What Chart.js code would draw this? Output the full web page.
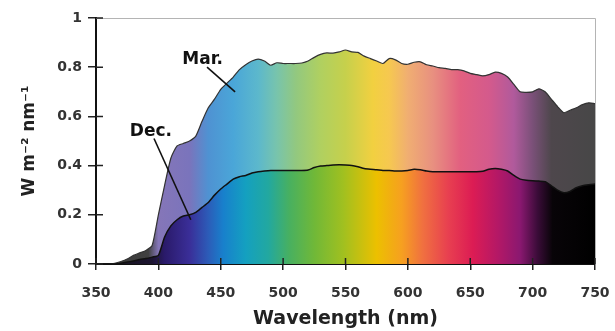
<!DOCTYPE html>
<html>
<head>
<meta charset="utf-8">
<script src="https://cdn.jsdelivr.net/npm/chart.js@4.4.1/dist/chart.umd.min.js"></script>
<style>
  html, body { margin: 0; padding: 0; background: #fff; }
  #wrap { width: 615px; height: 331px; }
</style>
</head>
<body>
<div id="wrap"><canvas id="spectrumChart"></canvas></div>
<script>
// data (W m-2 nm-1)
const wavelengths = [350, 360, 365, 370, 375, 380, 385, 390, 395, 400, 405, 410, 415, 420, 425, 430, 435, 440, 445, 450,
  455, 460, 465, 470, 475, 480, 485, 490, 495, 500, 505, 510, 515, 520, 525, 530, 535, 540, 545, 550,
  555, 560, 565, 570, 575, 580, 585, 590, 595, 600, 605, 610, 615, 620, 625, 630, 635, 640, 645, 650,
  655, 660, 665, 670, 675, 680, 685, 690, 695, 700, 705, 710, 715, 720, 725, 730, 735, 740, 745, 750];

const marValues = [0, 0, 0.003, 0.01, 0.02, 0.035, 0.045, 0.055, 0.075, 0.2, 0.32, 0.43, 0.48, 0.49, 0.5, 0.52, 0.58, 0.635, 0.67, 0.71,
  0.735, 0.76, 0.79, 0.81, 0.825, 0.833, 0.825, 0.808, 0.818, 0.815, 0.815, 0.815, 0.817, 0.825, 0.84, 0.852, 0.858, 0.857, 0.862, 0.87,
  0.862, 0.86, 0.845, 0.835, 0.825, 0.815, 0.835, 0.83, 0.815, 0.812, 0.82, 0.822, 0.81, 0.805, 0.798, 0.795, 0.79, 0.79, 0.785, 0.775,
  0.77, 0.765, 0.77, 0.78, 0.775, 0.76, 0.73, 0.7, 0.698, 0.7, 0.712, 0.7, 0.67, 0.64, 0.615, 0.625, 0.635, 0.648, 0.655, 0.652];

const decValues = [0, 0, 0, 0.003, 0.008, 0.012, 0.018, 0.022, 0.028, 0.035, 0.11, 0.155, 0.18, 0.195, 0.2, 0.21, 0.23, 0.25, 0.28, 0.305,
  0.325, 0.345, 0.355, 0.36, 0.37, 0.375, 0.378, 0.38, 0.38, 0.38, 0.38, 0.38, 0.38, 0.382, 0.392, 0.398, 0.4, 0.402, 0.403, 0.402,
  0.4, 0.395, 0.388, 0.385, 0.383, 0.38, 0.38, 0.378, 0.378, 0.38, 0.385, 0.383, 0.378, 0.375, 0.375, 0.375, 0.375, 0.375, 0.375, 0.375,
  0.375, 0.377, 0.385, 0.388, 0.385, 0.378, 0.36, 0.345, 0.34, 0.338, 0.337, 0.335, 0.318, 0.3, 0.29, 0.295, 0.31, 0.318, 0.322, 0.325];

const xTicks = [350, 400, 450, 500, 550, 600, 650, 700, 750];
const yTicks = [0, 0.2, 0.4, 0.6, 0.8, 1];
const yTickLabels = ['0', '0.2', '0.4', '0.6', '0.8', '1'];

// spectrum colours along the x axis
const marStops = [[350, '#3a3a3a'], [392, '#404040'], [400, '#8576b8'], [425, '#7a74bc'], [440, '#4f92d2'],
  [460, '#4aa6d8'], [480, '#5cb8cc'], [495, '#78c4ac'], [510, '#92c880'], [530, '#b0d060'], [550, '#c6d04c'],
  [572, '#f2d040'], [585, '#f6c850'], [600, '#f0ae72'], [620, '#e89080'], [642, '#e26080'], [665, '#d45a8c'],
  [685, '#b05a9c'], [700, '#7a5078'], [715, '#4e474c'], [750, '#474747']];
const decStops = [[350, '#151515'], [395, '#1c1430'], [405, '#2a1a6a'], [425, '#3a2e98'], [440, '#2c5cb8'],
  [452, '#1880cc'], [470, '#14a0c0'], [488, '#22a8a0'], [505, '#48b060'], [525, '#70b838'], [548, '#a0c020'],
  [575, '#ecc000'], [595, '#f6a020'], [612, '#f07040'], [632, '#e84050'], [652, '#dc1c54'], [672, '#b41866'],
  [690, '#8a1870'], [704, '#3a0c38'], [716, '#080408'], [750, '#000000']];

// label and leader line spots, in data units
const labels = [
  { text: 'Mar.', x: 435.5, y: 0.83, from: [439, 0.80], to: [461.5, 0.70] },
  { text: 'Dec.', x: 394, y: 0.54, from: [396.5, 0.51], to: [426, 0.18] }
];

function spectrum(chart, stops) {
  const area = chart.chartArea;
  if (!area) return 'rgba(0,0,0,0)';
  const xs = chart.scales.x;
  const x0 = xs.getPixelForValue(350), x1 = xs.getPixelForValue(750);
  const g = chart.ctx.createLinearGradient(x0, 0, x1, 0);
  stops.forEach(([w, c]) => g.addColorStop((w - 350) / 400, c));
  return g;
}

const spectrumPlugin = {
  id: 'spectrumExtras',
  afterDatasetsDraw(chart) {
    const { ctx } = chart;
    const xs = chart.scales.x, ys = chart.scales.y;
    ctx.save();
    labels.forEach(l => {
      ctx.strokeStyle = '#111';
      ctx.lineWidth = 1.6;
      ctx.beginPath();
      ctx.moveTo(xs.getPixelForValue(l.from[0]), ys.getPixelForValue(l.from[1]));
      ctx.lineTo(xs.getPixelForValue(l.to[0]), ys.getPixelForValue(l.to[1]));
      ctx.stroke();
      ctx.fillStyle = '#111';
      ctx.font = 'bold 17px "DejaVu Sans"';
      ctx.textAlign = 'center';
      ctx.textBaseline = 'middle';
      ctx.fillText(l.text, xs.getPixelForValue(l.x), ys.getPixelForValue(l.y));
    });
    ctx.restore();
  },
  afterDraw(chart) {
    const { ctx, chartArea: a } = chart;
    const xs = chart.scales.x, ys = chart.scales.y;
    ctx.save();
    // light frame on top and right
    ctx.strokeStyle = '#b4b4b4';
    ctx.lineWidth = 1;
    ctx.beginPath();
    ctx.moveTo(a.left, a.top + 0.5);
    ctx.lineTo(a.right + 0.5, a.top + 0.5);
    ctx.lineTo(a.right + 0.5, a.bottom);
    ctx.stroke();
    // ticks crossing into the plot
    ctx.strokeStyle = '#222';
    ctx.lineWidth = 1.5;
    ctx.beginPath();
    yTicks.forEach(v => {
      const y = ys.getPixelForValue(v);
      ctx.moveTo(a.left, y);
      ctx.lineTo(a.left + 7, y);
    });
    xTicks.forEach(v => {
      const x = xs.getPixelForValue(v);
      ctx.moveTo(x, a.bottom);
      ctx.lineTo(x, a.bottom - 6);
    });
    ctx.stroke();
    ctx.restore();
  }
};

const tickFont = { family: '"DejaVu Sans"', size: 14, weight: 'bold' };

new Chart(document.getElementById('spectrumChart'), {
  type: 'line',
  data: {
    datasets: [
      {
        label: 'Dec.',
        data: wavelengths.map((w, i) => ({ x: w, y: decValues[i] })),
        borderColor: '#111',
        borderWidth: 1.5,
        backgroundColor: c => spectrum(c.chart, decStops),
        fill: 'origin',
        pointRadius: 0,
        tension: 0.2
      },
      {
        label: 'Mar.',
        data: wavelengths.map((w, i) => ({ x: w, y: marValues[i] })),
        borderColor: '#333',
        borderWidth: 1.2,
        backgroundColor: c => spectrum(c.chart, marStops),
        fill: 'origin',
        pointRadius: 0,
        tension: 0.2
      }
    ]
  },
  options: {
    responsive: true,
    maintainAspectRatio: false,
    animation: false,
    layout: { padding: { left: 8, right: 20, top: 18, bottom: 0 } },
    plugins: { legend: { display: false }, tooltip: { enabled: false } },
    scales: {
      x: {
        type: 'linear',
        min: 350,
        max: 750,
        afterBuildTicks: s => { s.ticks = xTicks.map(v => ({ value: v })); },
        afterFit: s => { s.height = 67; s.paddingLeft = 0; s.paddingRight = 0; },
        grid: { drawOnChartArea: false, tickLength: 6, color: '#222', lineWidth: 1.5 },
        border: { color: '#111', width: 2 },
        ticks: { color: '#333', font: tickFont, padding: 15, maxRotation: 0 },
        title: {
          display: true,
          text: 'Wavelength (nm)',
          color: '#222',
          font: { family: '"DejaVu Sans"', size: 19, weight: 'bold' },
          padding: { top: 0, bottom: 1 }
        }
      },
      y: {
        min: 0,
        max: 1,
        afterBuildTicks: s => { s.ticks = yTicks.map(v => ({ value: v })); },
        afterFit: s => { s.width = 88; s.paddingTop = 0; s.paddingBottom = 0; },
        grid: { drawOnChartArea: false, tickLength: 8, color: '#222', lineWidth: 1.5 },
        border: { color: '#111', width: 2 },
        ticks: {
          color: '#333',
          font: tickFont,
          padding: 6,
          callback: (v, i) => yTickLabels[i]
        },
        title: {
          display: true,
          text: 'W m⁻² nm⁻¹',
          color: '#222',
          font: { family: '"DejaVu Sans"', size: 17, weight: 'bold' },
          padding: { top: 11, bottom: 0 }
        }
      }
    }
  },
  plugins: [spectrumPlugin]
});
</script>
</body>
</html>
